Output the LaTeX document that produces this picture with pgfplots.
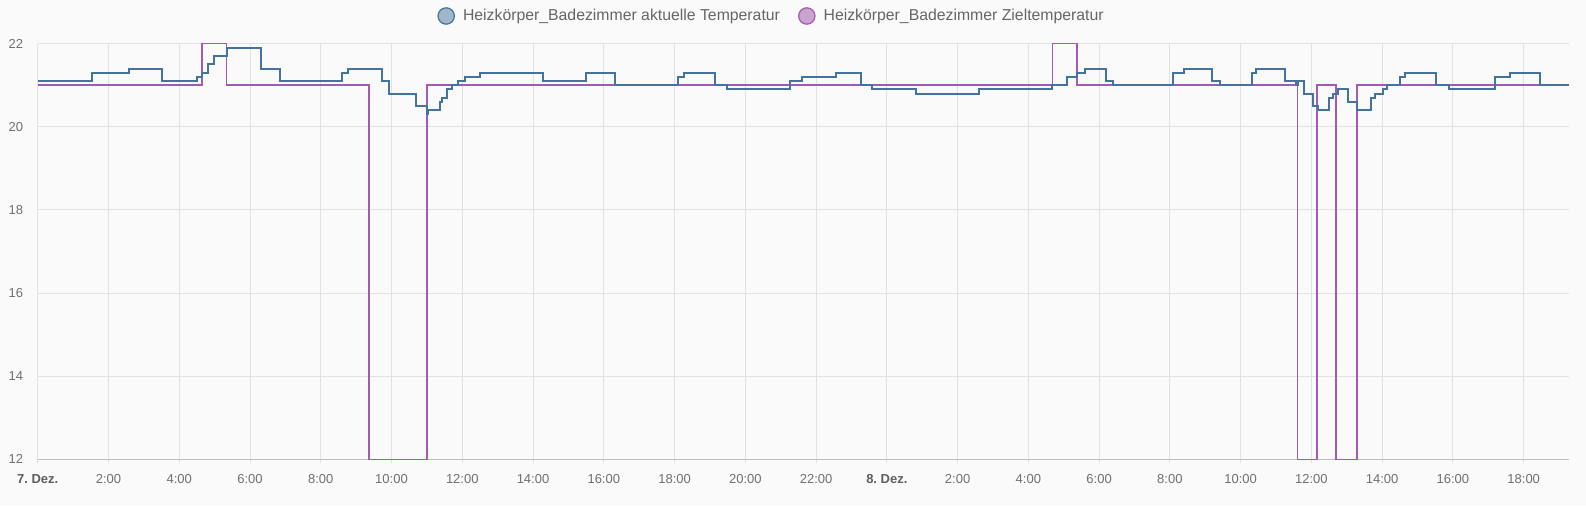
\documentclass[border=0pt]{standalone}
\usepackage{pgfplots}
\pgfplotsset{compat=1.18}
\usepackage{fontspec}
\setmainfont{Liberation Sans}
\definecolor{bg}{HTML}{FAFAFA}
\definecolor{gridc}{HTML}{E2E2E2}
\definecolor{axisc}{HTML}{BDBDBD}
\definecolor{tickc}{HTML}{707070}
\definecolor{datec}{HTML}{5E5E5E}
\definecolor{legc}{HTML}{666666}
\definecolor{cblue}{HTML}{44739E}
\definecolor{cpurple}{HTML}{A35AB2}
\definecolor{lblue}{HTML}{9FB6CC}
\definecolor{lpurple}{HTML}{C9A4CE}
\begin{document}
\begin{tikzpicture}
\fill[bg] (-37.7pt,-46.7pt) rectangle (1548.3pt,459.3pt);
\begin{axis}[
  at={(0,0)}, anchor=south west,
  scale only axis, width=1531.3pt, height=415.6pt,
  xmin=0, xmax=43.28, ymin=12, ymax=22,
  axis line style={draw=none},
  grid=major, grid style={gridc, line width=0.9pt},
  xtick={0,2,...,42},
  xticklabels={\textcolor{datec}{\textbf{7.~Dez.}},2:00,4:00,6:00,8:00,10:00,12:00,14:00,16:00,18:00,20:00,22:00,\textcolor{datec}{\textbf{8.~Dez.}},2:00,4:00,6:00,8:00,10:00,12:00,14:00,16:00,18:00},
  ytick={12,14,...,22},
  extra y ticks={12}, extra y tick labels={},
  extra y tick style={grid style={axisc, line width=1.1pt}},
  xtick pos=lower, ytick pos=left,
  tick align=outside,
  major tick length=4pt,
  xtick style={gridc, line width=0.9pt},
  ytick style={draw=none},
  tick label style={font=\fontsize{13}{15}\selectfont, text=tickc},
  xticklabel style={yshift=-8pt},
  yticklabel style={xshift=-7pt},
  /pgf/number format/assume math mode=true,
  legend style={at={(axis description cs:0,1)}, xshift=399.5pt, yshift=27.7pt, anchor=west,
    draw=none, fill=none, inner sep=0pt, font=\fontsize{15.8}{18}\selectfont, text=legc,
    /tikz/every odd column/.append style={column sep=6pt},
    /tikz/every even column/.append style={column sep=16pt}},
  legend columns=2,
  legend cell align=left,
  legend image code/.code={\draw[#1, line width=1.2pt] (8.5pt,0pt) circle (8.2pt);},
]
\addplot[const plot, cpurple, line width=1.6pt, forget plot] coordinates {
(0,21) (4.65,22) (5.34,21) (9.37,12) (11.00,21) (28.68,22) (29.37,21)
(35.61,12) (36.15,21) (36.70,12) (37.28,21) (43.28,21)
};
\addplot[const plot, cblue, line width=2pt, forget plot] coordinates {
(0,21.1) (1.54,21.3) (2.59,21.4) (3.52,21.1) (4.49,21.2) (4.65,21.3) (4.82,21.5)
(4.97,21.7) (5.34,21.9) (6.30,21.4) (6.85,21.1) (8.61,21.3) (8.76,21.4) (9.73,21.1)
(9.94,20.8) (10.69,20.5) (11.00,20.3) (11.03,20.4) (11.37,20.6) (11.44,20.7)
(11.58,20.9) (11.72,21.0) (11.87,21.1) (12.09,21.2) (12.50,21.3) (14.29,21.1)
(15.50,21.3) (16.32,21.0) (18.09,21.2) (18.26,21.3) (19.14,21.0) (19.47,20.9)
(21.26,21.1) (21.59,21.2) (22.56,21.3) (23.27,21.0) (23.58,20.9) (24.82,20.8)
(26.61,20.9) (28.68,21.0) (29.08,21.2) (29.38,21.3) (29.60,21.4) (30.18,21.1)
(30.38,21.0) (32.08,21.3) (32.41,21.4) (33.20,21.1) (33.42,21.0) (34.31,21.3)
(34.44,21.4) (35.24,21.1) (35.56,21.0) (35.61,21.1) (35.80,20.8) (36.05,20.5)
(36.18,20.4) (36.51,20.7) (36.62,20.8) (36.74,20.9) (37.02,20.6) (37.28,20.4)
(37.68,20.7) (37.80,20.8) (38.03,20.9) (38.15,21.0) (38.49,21.2) (38.65,21.3)
(39.51,21.0) (39.89,20.9) (41.19,21.2) (41.61,21.3) (42.46,21.0) (43.28,21.0)
};
\addlegendimage{draw=cblue, fill=lblue}
\addlegendentry{Heizkörper\_Badezimmer aktuelle Temperatur}
\addlegendimage{draw=cpurple, fill=lpurple}
\addlegendentry{Heizkörper\_Badezimmer Zieltemperatur}
\end{axis}
\pgfresetboundingbox
\path (-37.7pt,-46.7pt) rectangle (1548.3pt,459.3pt);
\end{tikzpicture}
\end{document}
